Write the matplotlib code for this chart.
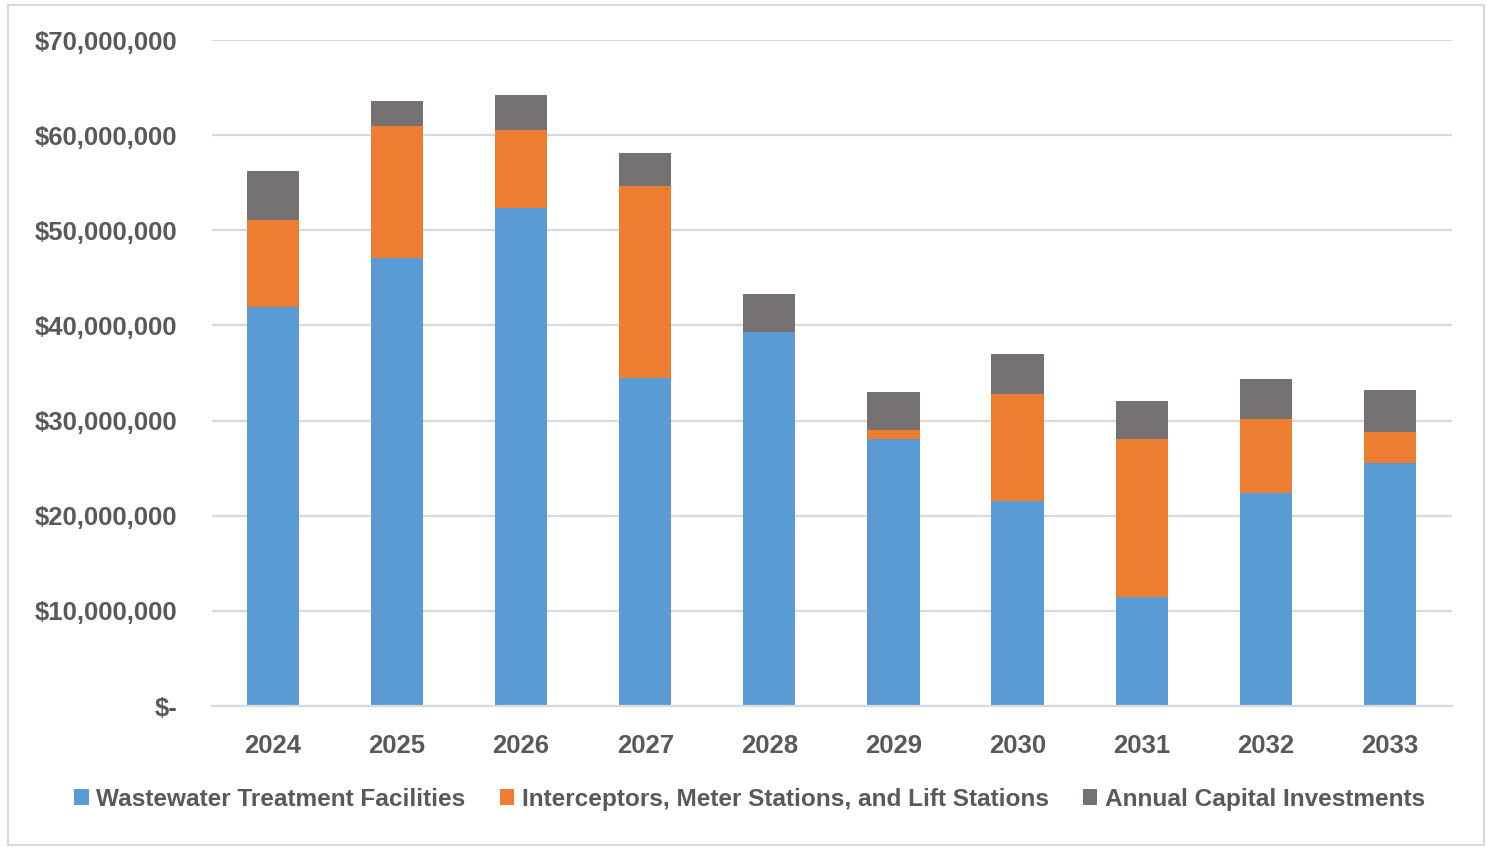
import matplotlib
matplotlib.use("Agg")
import matplotlib.pyplot as plt
from matplotlib.patches import Patch, Rectangle
from matplotlib.ticker import FuncFormatter, MultipleLocator

# values, in millions of dollars
years = ['2024', '2025', '2026', '2027', '2028', '2029', '2030', '2031', '2032', '2033']
treatment = [41.9, 47.1, 52.3, 34.5, 39.3, 28.05, 21.55, 11.45, 22.4, 25.55]
interceptors = [9.15, 13.85, 8.2, 20.15, 0.0, 0.95, 11.25, 16.6, 7.8, 3.25]
capital = [5.15, 2.65, 3.7, 3.45, 4.0, 4.0, 4.2, 4.0, 4.2, 4.4]

series_names = ['Wastewater Treatment Facilities',
                'Interceptors, Meter Stations, and Lift Stations',
                'Annual Capital Investments']
colors = ['#5B9BD5', '#ED7D31', '#767171']
text_color = '#595959'
grid_color = '#D9D9D9'

plt.rcParams['font.family'] = ['Liberation Sans', 'DejaVu Sans']
plt.rcParams['font.weight'] = 'bold'

fig = plt.figure(figsize=(14.87, 8.47), dpi=100)
ax = fig.add_axes([212 / 1487, 1 - 706 / 847, (1452 - 212) / 1487, (706 - 40) / 847])

x = range(len(years))
t = [v * 1e6 for v in treatment]
i = [v * 1e6 for v in interceptors]
c = [v * 1e6 for v in capital]
bottom2 = [a + b for a, b in zip(t, i)]

width = 0.42
ax.bar(x, t, width, color=colors[0], zorder=3)
ax.bar(x, i, width, bottom=t, color=colors[1], zorder=3)
ax.bar(x, c, width, bottom=bottom2, color=colors[2], zorder=3)

ax.set_xlim(-0.49, 9.5)
ax.set_ylim(0, 70e6)
ax.yaxis.set_major_locator(MultipleLocator(10e6))


def money(v, pos):
    if v == 0:
        return '$-'
    return '${:,.0f}'.format(v)


ax.yaxis.set_major_formatter(FuncFormatter(money))
ax.set_xticks(list(x))
ax.set_xticklabels(years)

ax.grid(axis='y', color=grid_color, linewidth=1.6, zorder=0)
for side in ['left', 'right', 'top']:
    ax.spines[side].set_visible(False)
ax.spines['bottom'].set_color(grid_color)
ax.spines['bottom'].set_linewidth(1.6)
ax.spines['bottom'].set_zorder(4)

ax.tick_params(axis='both', length=0, labelsize=18.5, labelcolor=text_color)
ax.tick_params(axis='y', pad=25)
ax.tick_params(axis='x', pad=20)

handles = [Patch(facecolor=col, edgecolor='none') for col in colors]
fig.legend(handles, series_names, loc='center', bbox_to_anchor=(0.504, 1 - 799 / 847),
           ncol=3, frameon=False, fontsize=17.6, labelcolor=text_color,
           handlelength=0.6, handleheight=0.6, handletextpad=0.3, columnspacing=1.4)

# thin border around the chart area
fig.patches.append(Rectangle((8 / 1487, 1 - 845 / 847), 1476 / 1487, 840 / 847,
                             transform=fig.transFigure, fill=False,
                             edgecolor='#D9D9D9', linewidth=1.5))

fig.savefig('out.png', dpi=100)
